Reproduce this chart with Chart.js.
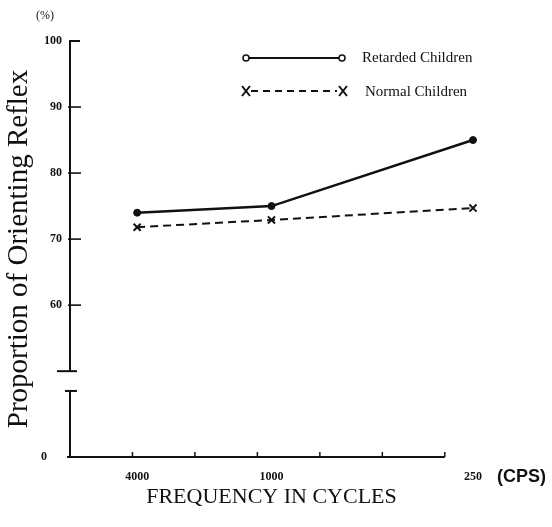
<!DOCTYPE html>
<html><head><meta charset="utf-8">
<script src="https://cdn.jsdelivr.net/npm/chart.js@4.4.1/dist/chart.umd.min.js"></script>
<style>html,body{margin:0;padding:0;background:#fff;}canvas{display:block;}</style>
</head><body><canvas id="c" width="552" height="527"></canvas>
<script>
// ---- data ----
const tickLabels = ['', '4000', '', '1000', '', '', '250'];
const categories = ['4000', '1000', '250'];
const retarded = [74, 75, 85];
const normal = [71.8, 72.9, 74.7];
const seriesNames = ['Retarded Children', 'Normal Children'];
const yTickValues = [60, 70, 80, 90, 100];
const yBaseLabel = '0';          // value shown at the foot of the broken axis
const yAxisFoot = 37;            // scale value where the "0" foot sits (axis is broken)
const yBreak = [47, 50];         // gap in the axis
const yUnit = '(%)';
const xUnit = '(CPS)';
const xTitle = 'FREQUENCY IN CYCLES';
const yTitle = 'Proportion of Orienting Reflex';

const ink = '#111';

function seg(ctx, x1, y1, x2, y2) { ctx.beginPath(); ctx.moveTo(x1, y1); ctx.lineTo(x2, y2); ctx.stroke(); }

const axesPlugin = {
  id: 'brokenAxes',
  afterDraw(chart) {
    const {ctx, chartArea: a, scales: {x, y}} = chart;
    ctx.save();
    ctx.strokeStyle = ink; ctx.fillStyle = ink; ctx.lineCap = 'butt';
    const X0 = a.left;
    const pTop = y.getPixelForValue(100);
    const pB1 = y.getPixelForValue(yBreak[1]);
    const pB0 = y.getPixelForValue(yBreak[0]);
    const pFoot = y.getPixelForValue(yAxisFoot);
    ctx.lineWidth = 2;
    seg(ctx, X0, pTop - 1, X0, pB1);
    seg(ctx, X0, pB0, X0, pFoot + 1);
    seg(ctx, X0 - 1, pTop, X0 + 10, pTop);
    ctx.lineWidth = 1.6;
    yTickValues.filter(v => v < 100).forEach(v => {
      const p = y.getPixelForValue(v);
      seg(ctx, X0 - 2, p, X0 + 11, p);
    });
    ctx.lineWidth = 2;
    seg(ctx, X0 - 13, pB1, X0 + 7, pB1);
    seg(ctx, X0 - 5, pB0, X0 + 7, pB0);
    // x axis
    const xEnd = a.left + (a.right - a.left) * 0.93;
    seg(ctx, X0 - 3, a.bottom, xEnd, a.bottom);
    ctx.lineWidth = 1.5;
    for (let k = 1; k <= 6; k++) {
      const px = X0 + (xEnd - X0) * k / 6;
      seg(ctx, px, a.bottom, px, a.bottom - 5);
    }
    // foot label of the broken axis
    ctx.textBaseline = 'middle';
    ctx.textAlign = 'center';
    ctx.font = 'bold 12px "Liberation Serif"';
    ctx.fillText(yBaseLabel, X0 - 26, pFoot);
    // units
    ctx.font = '12px "Liberation Serif"';
    ctx.fillText(yUnit, X0 - 25, pTop - 25);
    ctx.textAlign = 'left';
    ctx.font = 'bold 18px "Liberation Sans"';
    ctx.fillText(xUnit, x.getPixelForValue(6) + 24, a.bottom + 20);
    ctx.restore();
  }
};

const legendPlugin = {
  id: 'freeLegend',
  afterDraw(chart) {
    const {ctx} = chart;
    ctx.save();
    ctx.strokeStyle = ink; ctx.fillStyle = ink;
    const x1 = 246, x2 = 342;
    // row 1: solid line with open circles
    let yy = 58;
    ctx.lineWidth = 2;
    seg(ctx, x1 + 3, yy, x2 - 3, yy);
    ctx.lineWidth = 1.5;
    [x1, x2].forEach(px => { ctx.beginPath(); ctx.arc(px, yy, 3, 0, Math.PI * 2); ctx.fillStyle = '#fff'; ctx.fill(); ctx.stroke(); });
    ctx.fillStyle = ink;
    ctx.font = '15px "Liberation Serif"';
    ctx.textBaseline = 'middle'; ctx.textAlign = 'left';
    ctx.fillText(chart.data.datasets[0].label, 362, yy);
    // row 2: dashed with x markers
    yy = 91;
    ctx.lineWidth = 2;
    ctx.setLineDash([7, 5]);
    seg(ctx, x1 + 5, yy, x2 - 5, yy);
    ctx.setLineDash([]);
    [x1, x2 + 1].forEach(px => {
      seg(ctx, px - 4, yy - 5, px + 4, yy + 5);
      seg(ctx, px - 4, yy + 5, px + 4, yy - 5);
    });
    ctx.fillText(chart.data.datasets[1].label, 365, yy + 1);
    ctx.restore();
  }
};

const toPoints = vals => categories.map((c, i) => ({x: c, y: vals[i]}));

new Chart(document.getElementById('c'), {
  type: 'line',
  data: {
    labels: tickLabels,
    datasets: [
      {
        label: seriesNames[0],
        data: toPoints(retarded),
        borderColor: ink, backgroundColor: ink,
        borderWidth: 2.5,
        pointStyle: 'circle', pointRadius: 3.5,
        pointBackgroundColor: ink, pointBorderColor: ink, pointBorderWidth: 1,
        spanGaps: true, tension: 0
      },
      {
        label: seriesNames[1],
        data: toPoints(normal),
        borderColor: ink, backgroundColor: ink,
        borderWidth: 2, borderDash: [8, 5],
        pointStyle: 'crossRot', pointRadius: 5,
        pointBorderColor: ink, pointBorderWidth: 2,
        spanGaps: true, tension: 0
      }
    ]
  },
  options: {
    responsive: false,
    animation: false,
    layout: {padding: {top: 41, right: 79, bottom: 0, left: 0}},
    plugins: {legend: {display: false}, tooltip: {enabled: false}},
    scales: {
      x: {
        type: 'category',
        offset: false,
        grid: {display: false, drawTicks: false},
        border: {display: false},
        ticks: {autoSkip: false, maxRotation: 0, padding: 13, color: ink,
                font: {family: '"Liberation Serif"', size: 12, weight: 'bold'}},
        title: {display: true, text: xTitle, color: ink,
                font: {family: '"Liberation Serif"', size: 22},
                padding: {top: 0, bottom: 17}},
        afterFit: s => { s.height = 70; }
      },
      y: {
        min: yAxisFoot, max: 100,
        grid: {display: false, drawTicks: false},
        border: {display: false},
        afterBuildTicks: s => { s.ticks = [yAxisFoot, ...yTickValues].map(v => ({value: v})); },
        ticks: {padding: 8, color: ink,
                font: {family: '"Liberation Serif"', size: 12, weight: 'bold'},
                callback: v => v === yAxisFoot ? '' : String(v)},
        title: {display: true, text: yTitle, color: ink,
                font: {family: '"Liberation Serif"', size: 29},
                padding: {top: 2, bottom: 0}},
        afterFit: s => { s.width = 70; }
      }
    }
  },
  plugins: [axesPlugin, legendPlugin]
});
</script>
</body></html>
